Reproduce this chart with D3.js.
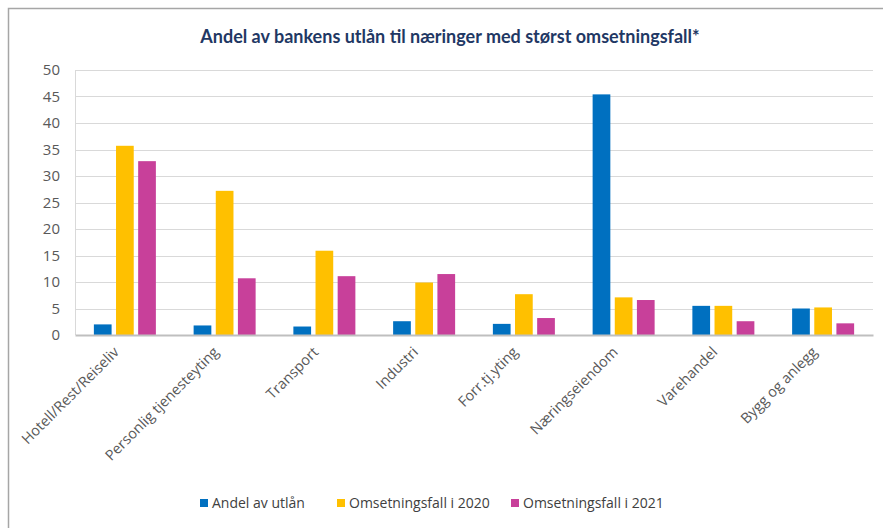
<!DOCTYPE html>
<html>
<head>
<meta charset="utf-8">
<script src="https://cdn.jsdelivr.net/npm/d3@7"></script>
<style>
  body { margin: 0; background: #fff; }
  text { font-family: "Open Sans", "Noto Sans", sans-serif; }
</style>
</head>
<body>
<svg width="883" height="528"></svg>
<script>
// data
var categories = ["Hotell/Rest/Reiseliv", "Personlig tjenesteyting", "Transport", "Industri",
                  "Forr.tj.yting", "Næringseiendom", "Varehandel", "Bygg og anlegg"];
var andelUtlan = [2.0, 1.8, 1.6, 2.6, 2.1, 45.4, 5.5, 5.0];
var fall2020 = [35.7, 27.2, 15.9, 9.9, 7.7, 7.1, 5.5, 5.2];
var fall2021 = [32.8, 10.7, 11.1, 11.5, 3.2, 6.6, 2.6, 2.2];
var seriesNames = ["Andel av utlån", "Omsetningsfall i 2020", "Omsetningsfall i 2021"];
var seriesColors = ["#0070C0", "#FFC000", "#C8409A"];
var yTicks = [0, 5, 10, 15, 20, 25, 30, 35, 40, 45, 50];

var svg = d3.select("svg"),
    width = +svg.attr("width"),
    height = +svg.attr("height");

var margin = {top: 70, right: 10, bottom: 193, left: 75},
    plotW = 873 - margin.left,
    plotH = 335 - margin.top;

// frame (only top and left edge visible in the reference)
svg.append("path")
  .attr("d", "M8.5," + height + "V8.5H" + width)
  .attr("fill", "none")
  .attr("stroke", "#a6a6a6")
  .attr("stroke-width", 1.5);

svg.append("text")
  .attr("x", 450)
  .attr("y", 43)
  .attr("text-anchor", "middle")
  .style("font-family", "Lato, sans-serif")
  .style("font-weight", "bold")
  .style("font-size", "18px")
  .style("fill", "#1F3864")
  .text("Andel av bankens utlån til næringer med størst omsetningsfall*");

var g = svg.append("g")
  .attr("transform", "translate(" + margin.left + "," + margin.top + ")");

var x = d3.scaleBand()
  .domain(categories)
  .range([0, plotW]);

var xInner = d3.scaleBand()
  .domain(d3.range(seriesNames.length))
  .range([x.bandwidth() / 2 - 31, x.bandwidth() / 2 + 31])
  .paddingInner(0.2);

var y = d3.scaleLinear()
  .domain([0, 50])
  .range([plotH, 0]);

// gridlines
g.append("g")
  .selectAll("line")
  .data(yTicks.filter(function(d) { return d > 0; }))
  .enter().append("line")
  .attr("x1", 0)
  .attr("x2", plotW)
  .attr("y1", function(d) { return Math.round(y(d)) + 0.5; })
  .attr("y2", function(d) { return Math.round(y(d)) + 0.5; })
  .attr("stroke", "#d9d9d9")
  .attr("stroke-width", 1.2);

// left axis line
g.append("line")
  .attr("x1", 0.5).attr("x2", 0.5)
  .attr("y1", 0).attr("y2", plotH)
  .attr("stroke", "#d9d9d9");

var yAxis = g.append("g")
  .call(d3.axisLeft(y).tickValues(yTicks).tickSize(0).tickPadding(15));
yAxis.select(".domain").remove();
yAxis.selectAll("text")
  .style("font-size", "15px")
  .style("fill", "#595959");

var rows = categories.map(function(c, i) {
  return {cat: c, vals: [andelUtlan[i], fall2020[i], fall2021[i]]};
});

g.selectAll(".group")
  .data(rows)
  .enter().append("g")
  .attr("class", "group")
  .attr("transform", function(d) { return "translate(" + x(d.cat) + ",0)"; })
  .selectAll("rect")
  .data(function(d) { return d.vals; })
  .enter().append("rect")
  .attr("x", function(d, i) { return xInner(i); })
  .attr("width", xInner.bandwidth())
  .attr("y", function(d) { return y(d); })
  .attr("height", function(d) { return plotH - y(d); })
  .attr("fill", function(d, i) { return seriesColors[i]; });

// x axis
var xAxis = g.append("g")
  .attr("transform", "translate(0," + plotH + ")")
  .call(d3.axisBottom(x).tickSize(0).tickPadding(0));
xAxis.select(".domain")
  .attr("stroke", "#bfbfbf")
  .attr("stroke-width", 2);
xAxis.selectAll("text")
  .attr("text-anchor", "end")
  .attr("dy", null)
  .attr("y", 0)
  .attr("transform", "translate(-5,18) rotate(-45)")
  .style("font-size", "14.5px")
  .style("fill", "#595959");

// legend
var legendX = [200, 337, 511];
var legend = svg.append("g")
  .selectAll("g")
  .data(seriesNames)
  .enter().append("g")
  .attr("transform", function(d, i) { return "translate(" + legendX[i] + ",503)"; });

legend.append("rect")
  .attr("x", 0)
  .attr("y", -4)
  .attr("width", 8)
  .attr("height", 8)
  .attr("fill", function(d, i) { return seriesColors[i]; });

legend.append("text")
  .attr("x", 12)
  .attr("dy", "0.35em")
  .style("font-size", "14px")
  .style("fill", "#404040")
  .text(function(d) { return d; });
</script>
</body>
</html>
